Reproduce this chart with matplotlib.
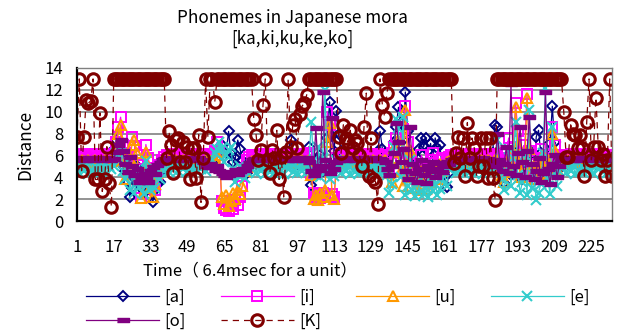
import numpy as np
import matplotlib
matplotlib.use("Agg")
import matplotlib.pyplot as plt

plt.rcParams['font.family'] = ['Noto Sans CJK JP', 'DejaVu Sans']

# time index 1..234 (6.4 msec per unit)
t = np.arange(1, 235)

a = [5.4, 5.2, 5.5, 5.3, 5.1, 5.4, 5.6, 5.3, 5.2, 5.5,
     5.3, 5.1, 5.4, 5.6, 5.7, 6.0,
     6.6, 7.4, 6.6, 5.8, 5.0, 4.6, 3.6, 2.2, 3.0, 4.2, 5.0, 3.8, 3.0, 2.6, 4.4, 3.2, 2.4, 1.7, 2.8, 3.4, 3.6, 4.6, 5.0,
     5.2, 5.4, 5.3, 5.1, 5.5, 5.2, 5.4, 5.3, 5.6, 5.2, 5.4, 5.1, 5.3, 5.5, 5.2, 5.4, 5.6, 5.3, 5.5,
     5.2, 5.6, 6.2, 5.8, 6.8, 7.0, 6.4, 6.2, 8.2, 6.2, 5.4, 5.8, 7.4, 6.6, 5.6, 5.0, 4.4, 5.0, 5.3,
     5.4, 5.2, 5.5, 5.3, 5.1, 5.4, 5.6, 5.3, 5.2, 5.5, 5.3, 5.4, 5.2, 5.6, 5.5, 6.2, 7.4, 6.0, 5.4, 5.2, 5.5, 5.3, 5.6, 5.4,
     6.8, 3.3, 5.0, 4.2, 5.6, 6.0, 4.6, 5.2, 7.6, 10.9, 7.8, 6.4, 10.1,
     8.0, 6.4, 5.4, 5.2, 5.5, 5.3, 5.1, 5.4, 5.6, 5.3, 5.2, 5.5, 5.3, 5.4, 5.2, 5.6, 5.5, 6.4, 8.2, 6.6,
     6.2, 5.4, 4.8, 6.0, 7.2, 8.6, 10.4, 9.0, 7.4, 11.8, 8.2, 6.0, 5.2, 4.6, 5.8, 6.6, 7.6, 6.8, 7.6, 6.4,
     7.1, 5.6, 7.6, 6.7, 7.0, 5.0, 4.2, 3.1, 4.4, 5.2,
     5.4, 5.2, 5.5, 5.3, 5.1, 5.4, 5.6, 5.3, 5.2, 5.5, 5.3, 5.4, 5.2, 5.6, 5.5, 5.3, 5.4, 6.2, 8.8,
     8.6, 6.0, 4.4, 3.5, 4.8, 5.6, 4.2, 5.0, 6.2, 5.4, 4.6, 3.8, 5.2, 6.0, 6.5, 5.4, 4.4, 7.7, 8.3, 6.2,
     5.0, 4.4, 5.8, 7.1, 10.5, 7.2, 5.6, 4.8, 5.4,
     5.3, 5.5, 5.2, 5.4, 5.6, 5.3, 5.1, 5.4, 5.5, 5.2, 5.4, 5.6, 5.3, 5.5, 5.2, 5.4, 5.6, 5.3, 5.5, 5.2, 5.4, 5.3]

i = [5.9, 6.0, 5.8, 6.1, 5.9, 5.8, 6.0, 5.9, 6.1, 5.8, 6.0, 5.9, 5.8, 6.1, 5.9, 6.0,
     5.9, 7.2, 8.6, 9.5, 7.0, 6.2, 5.6, 6.8, 7.7, 6.9, 6.0, 4.8, 2.1, 3.6, 7.0, 5.8, 4.6, 3.2, 2.8, 4.2, 5.1, 5.6, 5.9,
     6.0, 5.8, 6.1, 5.9, 5.8, 6.0, 5.9, 6.1, 5.8, 6.0, 5.9, 5.8, 6.1, 5.9, 6.0, 5.8, 6.1, 5.9, 6.0,
     6.0, 6.1, 6.4, 7.2, 6.3, 1.8, 1.2, 1.0, 0.9, 1.4, 1.1, 1.9, 1.5, 2.2, 3.2, 4.8, 5.6, 5.9, 6.0,
     5.9, 6.0, 5.8, 6.1, 5.9, 5.8, 6.0, 5.9, 6.1, 5.8, 6.0, 5.9, 5.8, 6.1, 5.9, 6.0, 5.8, 6.1, 5.9, 6.0, 5.8, 6.1, 5.9, 6.0,
     6.2, 4.4, 2.6, 2.2, 2.4, 2.1, 2.6, 2.3, 10.0, 8.8, 2.5, 2.2, 5.8,
     5.8, 6.1, 5.9, 6.0, 5.8, 6.1, 5.9, 6.0, 5.8, 6.1, 5.9, 6.0, 5.8, 6.1, 5.9, 6.0, 5.8, 6.1, 5.9, 6.0,
     6.0, 5.6, 4.8, 6.2, 6.8, 7.6, 6.2, 5.4, 8.4, 10.5, 7.2, 5.8, 4.6, 3.8, 5.2, 4.4, 6.0, 5.2, 4.0, 4.8,
     5.6, 6.2, 5.0, 4.4, 5.6, 5.8, 5.0, 5.4, 5.9, 6.0,
     5.9, 6.1, 5.8, 6.0, 5.9, 6.1, 5.8, 6.0, 5.9, 6.1, 5.8, 6.0, 5.9, 6.1, 5.8, 6.0, 5.9, 6.1, 6.0,
     6.0, 5.8, 5.2, 4.6, 6.2, 7.6, 5.4, 6.8, 10.8, 8.2, 5.6, 4.8, 7.0, 11.6, 6.4, 5.2, 4.6, 3.8, 5.0, 6.6,
     5.8, 4.8, 5.4, 6.0, 8.6, 7.0, 5.6, 6.0, 5.9,
     5.9, 6.0, 5.8, 6.1, 5.9, 5.8, 6.0, 5.9, 6.1, 5.8, 6.0, 5.9, 5.8, 6.1, 5.9, 6.0, 5.8, 6.1, 5.9, 6.0, 5.8, 6.0]

u = [5.5, 5.4, 5.6, 5.5, 5.3, 5.6, 5.4, 5.5, 5.6, 5.4, 5.5, 5.3, 5.6, 5.5, 5.4, 5.6,
     5.5, 6.8, 8.0, 8.8, 6.0, 3.8, 4.6, 5.8, 7.0, 7.4, 6.2, 4.2, 2.1, 3.8, 6.3, 5.0, 3.0, 2.2, 3.4, 4.4, 5.0, 5.3, 5.5,
     5.4, 5.6, 5.5, 5.3, 5.6, 5.4, 5.5, 5.6, 5.4, 5.5, 5.3, 5.6, 5.5, 5.4, 5.6, 5.5, 5.3, 5.6, 5.4,
     5.6, 5.5, 5.6, 6.0, 6.3, 2.2, 1.6, 2.4, 1.4, 1.8, 2.6, 2.0, 2.8, 2.5, 3.2, 4.6, 4.9, 5.3, 5.5,
     5.5, 5.4, 5.6, 5.5, 5.3, 5.6, 5.4, 5.5, 5.6, 5.4, 5.5, 5.3, 5.6, 5.5, 5.4, 5.6, 5.5, 5.3, 5.6, 5.4, 5.5, 5.6, 5.4, 5.5,
     5.6, 4.2, 2.0, 2.4, 1.9, 2.6, 2.2, 2.8, 7.2, 9.0, 2.4, 2.0, 5.2,
     5.5, 5.4, 5.6, 5.5, 5.3, 5.6, 5.4, 5.5, 5.6, 5.4, 5.5, 5.3, 5.6, 5.5, 5.4, 5.6, 5.5, 5.3, 5.6, 5.4,
     5.6, 5.2, 4.4, 3.6, 6.7, 5.8, 7.4, 4.6, 3.2, 10.2, 5.4, 6.5, 4.0, 3.0, 3.8, 2.8, 4.6, 3.4, 2.9, 4.2,
     3.6, 5.0, 4.4, 3.8, 5.2, 4.6, 5.0, 5.4, 5.5, 5.6,
     5.5, 5.4, 5.6, 5.5, 5.3, 5.6, 5.4, 5.5, 5.6, 5.4, 5.5, 5.3, 5.6, 5.5, 5.4, 5.6, 5.5, 5.3, 5.6,
     5.6, 5.0, 4.2, 3.6, 4.8, 5.8, 4.5, 6.2, 10.4, 7.0, 4.0, 6.1, 5.2, 11.3, 6.6, 4.6, 3.8, 5.4, 4.2, 5.0,
     6.0, 4.4, 5.6, 5.2, 8.0, 6.4, 4.8, 5.4, 5.5,
     5.5, 5.4, 5.6, 5.5, 5.3, 5.6, 5.4, 5.5, 5.6, 5.4, 5.5, 5.3, 5.6, 5.5, 5.4, 5.6, 5.5, 5.3, 5.6, 5.4, 5.5, 5.4]

e = [5.2, 4.4, 5.3, 4.6, 5.1, 4.3, 5.4, 4.5, 5.0, 4.4, 5.3, 4.6, 5.2, 4.3, 5.0, 4.8,
     5.0, 6.2, 5.6, 7.0, 4.6, 3.8, 5.4, 2.8, 4.4, 2.6, 3.6, 3.1, 4.8, 2.5, 5.5, 3.4, 2.8, 4.2, 3.0, 4.8, 3.8, 5.2, 4.6,
     5.3, 4.5, 5.2, 4.7, 5.3, 4.6, 5.1, 4.8, 5.3, 4.5, 5.2, 4.7, 5.0, 4.6, 5.3, 4.8, 5.1, 4.6, 5.2,
     5.0, 5.6, 6.2, 6.6, 7.2, 6.7, 5.4, 6.0, 6.5, 6.8, 4.8, 3.6, 4.2, 5.0, 4.2, 3.9, 4.6, 5.0, 4.8,
     5.2, 4.4, 5.3, 4.6, 5.1, 4.3, 5.4, 4.5, 5.0, 4.4, 5.3, 4.6, 5.2, 4.3, 5.0, 4.8, 5.3, 4.5, 5.2, 4.4, 5.1, 4.6, 5.3, 4.5,
     5.0, 9.1, 5.6, 4.2, 6.8, 4.0, 5.8, 12.0, 4.6, 3.8, 4.4, 4.1, 5.6,
     5.2, 4.4, 5.3, 4.6, 5.1, 4.3, 5.4, 4.5, 5.0, 4.4, 5.3, 4.6, 5.2, 4.3, 5.0, 4.8, 5.3, 4.5, 5.2, 4.4,
     5.0, 4.2, 2.6, 3.4, 6.8, 9.3, 8.5, 4.0, 9.5, 2.4, 3.2, 5.6, 2.8, 2.3, 3.6, 2.6, 4.4, 2.5, 3.0, 2.2,
     4.0, 2.7, 3.4, 2.4, 2.9, 3.8, 4.6, 3.2, 4.8, 5.0,
     5.2, 4.4, 5.3, 4.6, 5.1, 4.3, 5.4, 4.5, 5.0, 4.4, 5.3, 4.6, 5.2, 4.3, 5.0, 4.8, 5.3, 4.5, 5.0,
     7.4, 5.2, 3.8, 2.8, 4.6, 6.6, 3.2, 5.8, 9.1, 4.2, 2.6, 3.6, 6.0, 2.4, 10.2, 3.0, 4.2, 1.9, 2.6, 3.4,
     6.2, 12.2, 3.8, 2.5, 8.6, 4.4, 3.2, 4.6, 5.0,
     5.2, 4.4, 5.3, 4.6, 5.1, 4.3, 5.4, 4.5, 5.0, 4.4, 5.3, 4.6, 5.2, 4.3, 5.0, 4.8, 5.3, 4.5, 5.2, 4.4, 5.1, 4.7]

o = [5.7, 5.6, 5.8, 5.7, 5.6, 5.7, 5.8, 5.6, 5.7, 5.8, 5.7, 5.6, 5.7, 5.8, 5.7, 5.6,
     5.7, 6.3, 7.0, 7.4, 6.4, 5.2, 4.5, 5.9, 5.0, 4.2, 4.8, 3.6, 4.0, 4.3, 3.9, 3.6, 4.6, 4.9, 4.3, 5.1, 5.3, 5.6, 5.7,
     5.7, 5.8, 5.6, 5.7, 5.8, 5.7, 5.6, 5.8, 5.7, 5.6, 5.7, 5.8, 5.6, 5.7, 5.8, 5.6, 5.4, 5.0, 4.9,
     5.2, 4.9, 4.7, 5.0, 4.6, 4.4, 4.2, 4.0, 4.2, 4.5, 4.4, 4.7, 4.3, 4.6, 4.8, 4.7, 5.0, 5.3, 5.6,
     5.7, 5.6, 5.8, 5.7, 5.6, 5.7, 5.8, 5.6, 5.7, 5.8, 5.7, 5.6, 5.7, 5.8, 5.7, 5.6, 5.8, 5.7, 5.6, 5.7, 5.8, 5.6, 5.7, 5.8,
     5.4, 4.6, 4.2, 8.5, 5.0, 4.7, 11.8, 5.6, 5.0, 4.4, 9.4, 4.8, 5.4,
     5.6, 5.7, 5.8, 5.6, 5.7, 5.8, 5.7, 5.6, 5.7, 5.8, 5.6, 5.7, 5.8, 5.7, 5.6, 5.7, 5.8, 5.6, 5.7, 5.6,
     5.4, 4.8, 4.2, 5.0, 6.2, 9.0, 7.2, 5.4, 6.6, 4.6, 3.8, 8.6, 5.2, 4.4, 3.6, 4.8, 5.6, 4.2, 3.5, 5.0,
     4.6, 5.4, 4.0, 4.8, 5.3, 4.5, 5.0, 5.4, 5.2, 5.6,
     5.7, 5.6, 5.8, 5.7, 5.6, 5.7, 5.8, 5.6, 5.7, 5.8, 5.7, 5.6, 5.7, 5.8, 5.6, 5.7, 5.6, 5.2, 5.0,
     8.0, 5.6, 4.6, 5.2, 6.8, 4.4, 12.5, 5.0, 4.2, 6.2, 8.6, 5.4, 4.0, 6.4, 9.5, 5.2, 3.8, 4.6, 5.8, 3.6,
     4.4, 11.8, 4.8, 3.4, 5.2, 6.0, 4.0, 5.0, 5.6,
     5.7, 5.6, 5.8, 5.7, 5.6, 5.7, 5.8, 5.6, 5.7, 5.8, 5.7, 5.6, 5.7, 5.8, 5.6, 5.7, 5.8, 5.6, 5.7, 5.8, 5.7, 5.6]

K = [7.7, 13, 4.6, 7.7, 11.1, 10.8, 11.0, 13, 3.8, 3.8, 9.9, 2.7, 3.8, 6.8, 3.5, 1.3,
     13, 13, 13, 13, 13, 13, 13, 13, 13, 13, 13, 13, 13, 13, 13, 13, 13, 13, 13, 13, 13, 13, 13,
     5.8, 8.2, 7.0, 4.4, 7.4, 7.6, 5.4, 7.2, 5.4, 6.8, 3.8, 6.7, 6.7, 3.9, 7.9, 1.7, 5.8, 13, 7.7,
     13, 13, 10.9, 13, 13, 13, 13, 13, 13, 13, 13, 13, 13, 13, 13, 13, 13, 13, 13,
     9.3, 7.9, 5.6, 6.5, 10.6, 13, 5.6, 4.4, 6.5, 5.8, 8.3, 3.8, 5.9, 2.2, 6.3, 13, 6.8, 8.8, 9.3, 6.7, 9.8, 10.5, 10.8, 11.5,
     13, 13, 13, 13, 13, 13, 13, 13, 13, 13, 13, 13, 13,
     7.7, 6.2, 8.8, 7.6, 7.2, 8.3, 6.7, 7.4, 7.1, 6.0, 5.0, 8.6, 11.7, 4.1, 7.6, 3.8, 3.6, 1.6, 13, 10.6,
     9.5, 11.7, 13, 13, 13, 13, 13, 13, 13, 13, 13, 13, 13, 13, 13, 13, 13, 13, 13, 13,
     13, 13, 13, 13, 13, 13, 13, 13, 13, 13,
     5.3, 6.2, 7.7, 5.8, 7.6, 4.1, 9.0, 5.8, 7.6, 6.7, 4.1, 5.0, 7.6, 5.0, 7.6, 3.9, 7.6, 3.9, 1.9,
     13, 13, 13, 13, 13, 13, 13, 13, 13, 13, 13, 13, 13, 13, 13, 13, 13, 13, 13, 13,
     13, 13, 13, 13, 13, 13, 13, 13, 13,
     10.0, 5.9, 5.9, 8.8, 8.0, 7.9, 6.7, 7.9, 6.7, 4.1, 9.1, 13, 5.6, 6.8, 11.3, 6.8, 5.6, 6.1, 4.1, 5.6, 13, 4.1]

labels = ["[a]", "[i]", "[u]", "[e]", "[o]", "[K]"]
xticks = list(range(1, 235, 16))

dash = [(-1, -0.38), (1, -0.38), (1, 0.38), (-1, 0.38)]

fig = plt.figure(figsize=(6.19, 3.34), dpi=100)
ax = fig.add_axes([77 / 619, 1 - 221 / 334, 535 / 619, 153 / 334])

lw = 0.9
ax.plot(t, a, color="#000080", lw=lw, marker="D", ms=5.5, mfc="none", mew=1.4, label=labels[0])
ax.plot(t, i, color="#FF00FF", lw=lw, marker="s", ms=7, mfc="none", mew=1.4, label=labels[1])
ax.plot(t, u, color="#FF9900", lw=lw, marker="^", ms=7, mfc="none", mew=1.5, label=labels[2])
ax.plot(t, e, color="#33CCCC", lw=lw, marker="x", ms=6.5, mew=1.5, label=labels[3])
ax.plot(t, o, color="#800080", lw=lw, marker=dash, ms=8, mec="#800080", mfc="#800080", label=labels[4])
ax.plot(t, K, color="#800000", lw=lw, ls=(0, (5, 4)), marker="o", ms=8.3, mfc="none", mew=2.2, label=labels[5])

ax.set_xlim(1, 234)
ax.set_ylim(0, 14)
ax.set_yticks(range(0, 15, 2))
ax.set_xticks(xticks)
ax.yaxis.grid(True, color="#808080", lw=1.2)
ax.set_axisbelow(True)
ax.tick_params(length=0, labelsize=12)
ax.tick_params(axis="x", pad=13)
ax.tick_params(axis="y", pad=10)
for s in ["top", "right"]:
    ax.spines[s].set_color("#808080")
    ax.spines[s].set_linewidth(1.0)
for s in ["left", "bottom"]:
    ax.spines[s].set_color("black")
    ax.spines[s].set_linewidth(1.6)

ax.set_ylabel("Distance", fontsize=12.5, labelpad=7)
fig.text(250 / 619, 1 - 271 / 334, "Time（ 6.4msec for a unit）", ha="center", va="center", fontsize=12)
fig.text(292 / 619, 1 - 18 / 334, "Phonemes in Japanese mora", ha="center", va="center", fontsize=12.3)
fig.text(292 / 619, 1 - 39 / 334, "[ka,ki,ku,ke,ko]", ha="center", va="center", fontsize=12.3)

h, l = ax.get_legend_handles_labels()
order = [0, 4, 1, 5, 2, 3]
fig.legend([h[k] for k in order], [l[k] for k in order], ncol=4, frameon=False,
           loc="upper left", bbox_to_anchor=(86 / 619, 1 - 289 / 334),
           fontsize=12, handlelength=4.4, handletextpad=0.3, columnspacing=2.1,
           labelspacing=0.42, borderpad=0, borderaxespad=0)

fig.savefig("out.png", dpi=100)
